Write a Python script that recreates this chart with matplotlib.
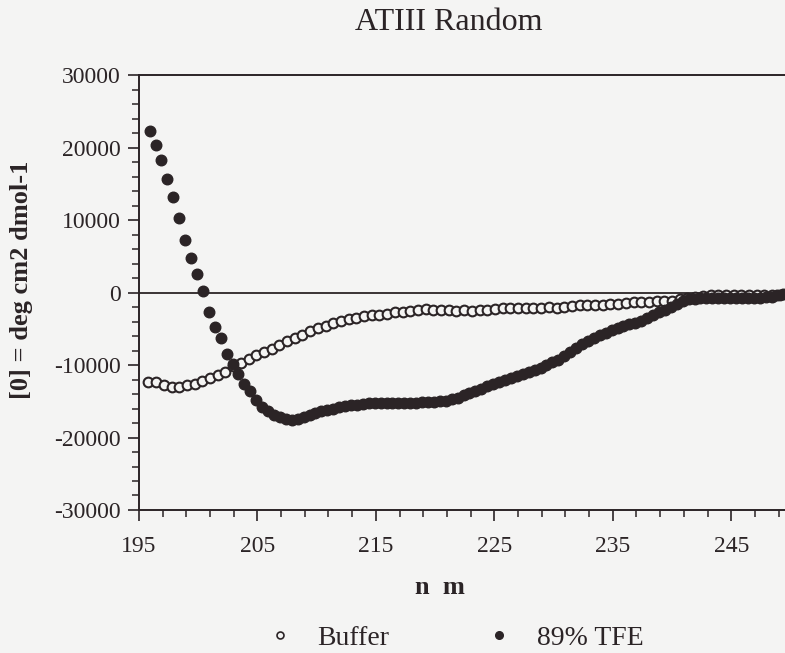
import numpy as np
import matplotlib.pyplot as plt
from matplotlib.lines import Line2D
from matplotlib.ticker import MultipleLocator

# wavelength grids (nm)
buffer_nm = np.arange(195.8, 250.0, 0.65)
tfe_nm = np.arange(195.9, 250.0, 0.5)

# mean residue ellipticity
buffer_vals = [
    -12400, -12400, -12800, -13000, -13000, -12800, -12550, -12200, -11800, -11400,
    -10900, -10200, -9700, -9200, -8650, -8150, -7750, -7300, -6750, -6300,
    -5800, -5300, -4900, -4550, -4150, -3900, -3650, -3500, -3250, -3100,
    -3050, -2900, -2750, -2700, -2600, -2450, -2300, -2400, -2450, -2450,
    -2500, -2450, -2500, -2450, -2400, -2300, -2200, -2200, -2150, -2100,
    -2150, -2100, -2050, -2100, -2000, -1900, -1750, -1700, -1700, -1650,
    -1600, -1550, -1500, -1350, -1250, -1250, -1200, -1200, -1100, -900,
    -750, -600, -500, -400, -400, -400, -350, -350, -350, -300,
    -300, -300, -300, -300,
]
tfe_vals = [
    22300, 20400, 18300, 15600, 13200, 10300, 7200, 4700, 2500, 200,
    -2700, -4700, -6300, -8500, -9800, -11200, -12600, -13600, -14800, -15800,
    -16400, -16900, -17200, -17400, -17600, -17500, -17200, -16900, -16600, -16350,
    -16150, -16000, -15850, -15700, -15550, -15450, -15350, -15250, -15200, -15200,
    -15200, -15200, -15250, -15250, -15200, -15200, -15150, -15100, -15050, -15000,
    -14900, -14750, -14500, -14200, -13900, -13550, -13250, -12950, -12650, -12350,
    -12000, -11750, -11450, -11200, -10950, -10700, -10400, -10050, -9650, -9250,
    -8750, -8200, -7700, -7150, -6700, -6300, -5900, -5550, -5200, -4900,
    -4650, -4400, -4150, -3900, -3550, -3150, -2750, -2350, -1950, -1550,
    -1150, -950, -850, -800, -800, -800, -800, -800, -750, -750,
    -750, -750, -750, -700, -650, -600, -400, -250, -150,
]

ink = '#2b2426'
bg = '#f4f4f3'
serif = ['Liberation Serif', 'DejaVu Serif']

plt.rcParams['font.family'] = serif
plt.rcParams['axes.unicode_minus'] = False
plt.rcParams['text.color'] = ink
plt.rcParams['axes.edgecolor'] = ink
plt.rcParams['xtick.color'] = ink
plt.rcParams['ytick.color'] = ink

fig = plt.figure(figsize=(7.85, 6.53), dpi=100, facecolor=bg)
ax = fig.add_axes([0.177, 0.219, 0.83, 0.666], facecolor=bg)

ax.axhline(0, color=ink, lw=1.3, zorder=1)
ax.plot(buffer_nm[:len(buffer_vals)], buffer_vals, 'o', ms=7, mfc=bg, mec=ink,
        mew=1.5, zorder=2)
ax.plot(tfe_nm[:len(tfe_vals)], tfe_vals, 'o', ms=7.6, mfc=ink, mec=ink, zorder=3)

ax.set_xlim(195, 250)
ax.set_ylim(-30000, 30000)
ax.xaxis.set_major_locator(MultipleLocator(10, offset=5))
ax.xaxis.set_minor_locator(MultipleLocator(2, offset=1))
ax.yaxis.set_major_locator(MultipleLocator(10000))
ax.yaxis.set_minor_locator(MultipleLocator(2000))
ax.tick_params(which='major', direction='out', length=8, width=1.2, labelsize=17, pad=5)
ax.tick_params(axis='x', which='major', pad=11)
ax.tick_params(which='minor', direction='out', length=5, width=1.1)
for s in ax.spines.values():
    s.set_linewidth(1.4)

fig.text(0.028, 1 - 280 / 653, '[0] = deg cm2 dmol-1', rotation=90, ha='center',
         va='center', fontsize=19, fontweight='bold')
fig.text(0.561, 1 - 587 / 653, 'n  m', ha='center', va='center', fontsize=19,
         fontweight='bold')
fig.text(0.572, 1 - 22 / 653, 'ATIII Random', ha='center', va='center', fontsize=23)

handles = [
    Line2D([], [], ls='none', marker='o', ms=5, mfc=bg, mec=ink, mew=1.2),
    Line2D([], [], ls='none', marker='o', ms=5.5, mfc=ink, mec=ink),
]
fig.legend(handles, ['Buffer', '89% TFE'], loc='center', bbox_to_anchor=(0.575, 1 - 638 / 653),
           ncol=2, frameon=False, fontsize=20, handlelength=1.5, handletextpad=0.6,
           columnspacing=3.2, borderpad=0)

fig.savefig('out.png', dpi=100, facecolor=bg)
